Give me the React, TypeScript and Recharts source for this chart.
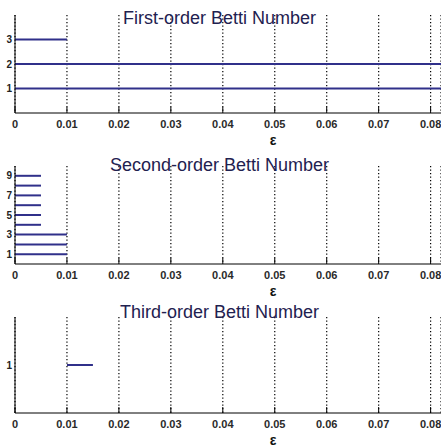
import React from 'react';
import { LineChart, Line, XAxis, YAxis, CartesianGrid } from 'recharts';

const FONT = '"Liberation Sans", Arial, Helvetica, sans-serif';
const LINE_COLOR = '#30308a';
const TITLE_COLOR = '#1f2150';

const X_MAX = 0.082;
const xTicks = [0, 0.01, 0.02, 0.03, 0.04, 0.05, 0.06, 0.07, 0.08];
const xTickLabels = ['0', '0.01', '0.02', '0.03', '0.04', '0.05', '0.06', '0.07', '0.08'];
const xAxisLabel = 'ε';

// First-order Betti number bars
const firstOrderLevels = [1, 2, 3];
const firstOrderBirths = [0, 0, 0];
const firstOrderDeaths = [Infinity, Infinity, 0.01];
const firstOrderYTicks = [1, 2, 3];
const firstOrderYMax = 4;

// Second-order Betti number bars
const secondOrderLevels = [1, 2, 3, 4, 5, 6, 7, 8, 9];
const secondOrderBirths = [0, 0, 0, 0, 0, 0, 0, 0, 0];
const secondOrderDeaths = [0.01, 0.01, 0.01, 0.005, 0.005, 0.005, 0.005, 0.005, 0.005];
const secondOrderYTicks = [1, 3, 5, 7, 9];
const secondOrderYMax = 10;

// Third-order Betti number bars
const thirdOrderLevels = [1];
const thirdOrderBirths = [0.01];
const thirdOrderDeaths = [0.015];
const thirdOrderYTicks = [1];
const thirdOrderYMax = 2;

const titles = ['First-order Betti Number', 'Second-order Betti Number', 'Third-order Betti Number'];

const XTick = (props: any) => {
  const { x, y, payload } = props;
  const idx = xTicks.indexOf(payload.value);
  const label = idx >= 0 ? xTickLabels[idx] : String(payload.value);
  return (
    <g>
      <line x1={x} x2={x} y1={y - 7} y2={y - 13} stroke="#000" strokeWidth={1} />
      <text
        x={x}
        y={y + 8}
        textAnchor="middle"
        fontSize={11}
        fontWeight="bold"
        fontFamily={FONT}
        fill="#2a2a2a"
        style={{ fontSize: 11 }}
      >
        {label}
      </text>
    </g>
  );
};

const YTick = (props: any) => {
  const { x, y, payload } = props;
  return (
    <text
      x={x}
      y={y + 3.5}
      textAnchor="end"
      fontSize={10}
      fontWeight="bold"
      fontFamily={FONT}
      fill="#222"
      style={{ fontSize: 10 }}
    >
      {String(payload.value)}
    </text>
  );
};

const renderEps = (props: any) => {
  const vb = props.viewBox || { x: 15, y: 0 };
  return (
    <text
      x={vb.x + 258}
      y={vb.y + 32}
      textAnchor="middle"
      fontSize={14}
      fontWeight="bold"
      fontFamily={FONT}
      fill="#111"
      style={{ fontSize: 14 }}
    >
      {xAxisLabel}
    </text>
  );
};

type PanelProps = {
  top: number;
  height: number;
  marginTop: number;
  axisHeight: number;
  yMax: number;
  yTicks: number[];
  levels: number[];
  births: number[];
  deaths: number[];
  title: string;
  titleTop: number;
};

function Panel(p: PanelProps) {
  const segments = p.levels.map((lv, i) => [
    { x: p.births[i], y: lv },
    { x: Math.min(p.deaths[i], X_MAX), y: lv },
  ]);
  return (
    <div style={{ position: 'absolute', left: 0, top: p.top, width: 441, height: p.height }}>
      <LineChart
        width={441}
        height={p.height}
        margin={{ top: p.marginTop, right: 0, bottom: 0, left: 0 }}
      >
        <CartesianGrid
          horizontal={false}
          vertical
          stroke="#000"
          strokeWidth={1.2}
          strokeDasharray="1.2 2.3"
        />
        <XAxis
          type="number"
          dataKey="x"
          domain={[0, X_MAX]}
          ticks={xTicks}
          interval={0}
          allowDataOverflow
          height={p.axisHeight}
          tickLine={false}
          tickSize={0}
          tickMargin={7}
          axisLine={{ stroke: '#000', strokeWidth: 1 }}
          tick={<XTick />}
          label={renderEps}
        />
        <YAxis
          type="number"
          domain={[0, p.yMax]}
          ticks={p.yTicks}
          interval={0}
          allowDataOverflow
          width={15}
          tickLine={false}
          tickSize={0}
          tickMargin={3}
          axisLine={{ stroke: '#000', strokeWidth: 1 }}
          tick={<YTick />}
        />
        {segments.map((seg, i) => (
          <Line
            key={i}
            data={seg}
            dataKey="y"
            type="linear"
            stroke={LINE_COLOR}
            strokeWidth={2}
            dot={false}
            activeDot={false}
            isAnimationActive={false}
          />
        ))}
      </LineChart>
      <div
        style={{
          position: 'absolute',
          left: 0,
          width: 441,
          top: p.titleTop,
          textAlign: 'center',
          fontFamily: FONT,
          fontSize: 18,
          lineHeight: '18px',
          color: TITLE_COLOR,
          paddingRight: 2,
          boxSizing: 'border-box',
          pointerEvents: 'none',
        }}
      >
        {p.title}
      </div>
    </div>
  );
}

export default function App() {
  return (
    <div
      style={{
        position: 'absolute',
        left: 0,
        top: 0,
        width: 441,
        height: 447,
        background: '#fff',
        overflow: 'hidden',
      }}
    >
      <Panel
        top={0}
        height={150}
        marginTop={15}
        axisHeight={37}
        yMax={firstOrderYMax}
        yTicks={firstOrderYTicks}
        levels={firstOrderLevels}
        births={firstOrderBirths}
        deaths={firstOrderDeaths}
        title={titles[0]}
        titleTop={9}
      />
      <Panel
        top={150}
        height={150}
        marginTop={16}
        axisHeight={36}
        yMax={secondOrderYMax}
        yTicks={secondOrderYTicks}
        levels={secondOrderLevels}
        births={secondOrderBirths}
        deaths={secondOrderDeaths}
        title={titles[1]}
        titleTop={6}
      />
      <Panel
        top={300}
        height={147}
        marginTop={17}
        axisHeight={34}
        yMax={thirdOrderYMax}
        yTicks={thirdOrderYTicks}
        levels={thirdOrderLevels}
        births={thirdOrderBirths}
        deaths={thirdOrderDeaths}
        title={titles[2]}
        titleTop={3}
      />
    </div>
  );
}
